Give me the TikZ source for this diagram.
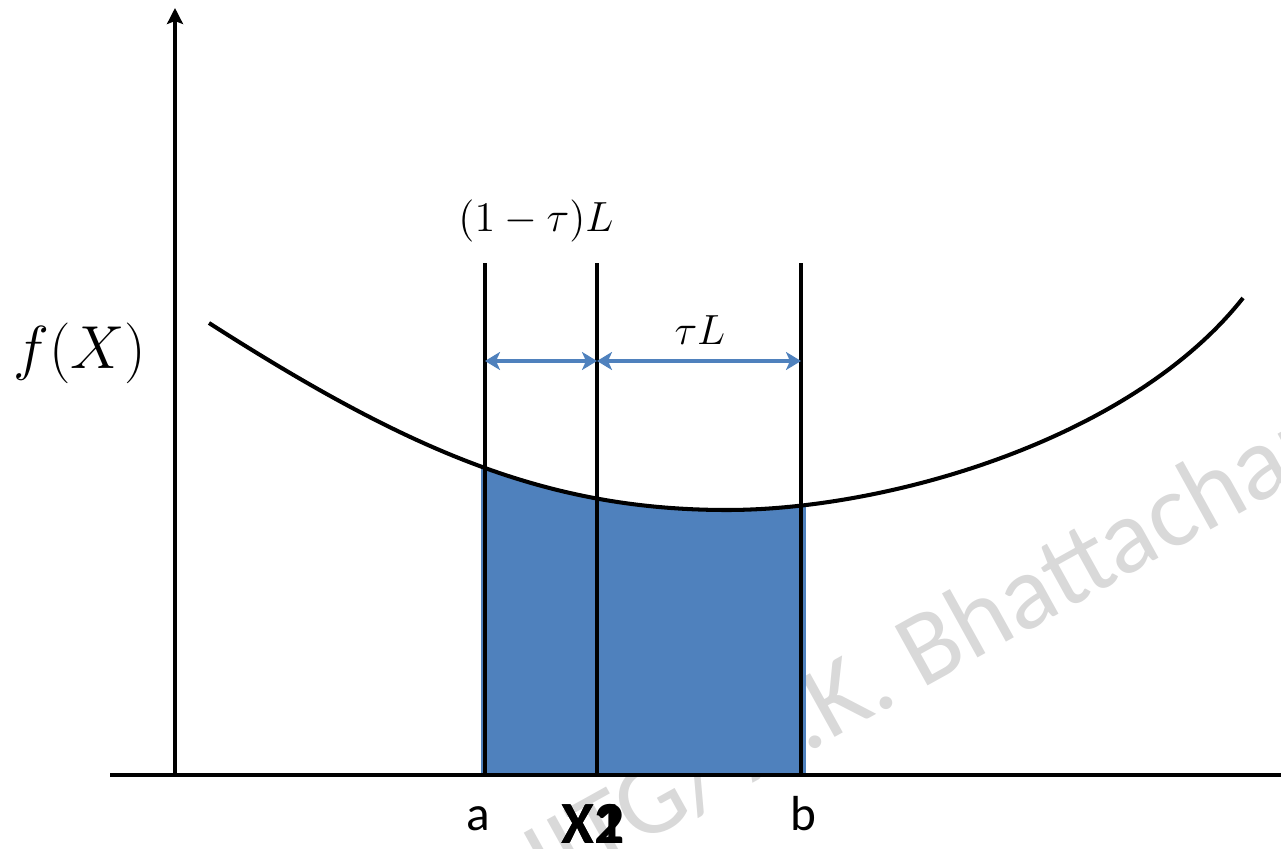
\documentclass[tikz,border=0pt]{standalone}
\usepackage{fontspec}
\setsansfont{Carlito}
\usepackage{amsmath}
\usetikzlibrary{arrows.meta}
\definecolor{areablue}{RGB}{79,129,189}
\definecolor{markgray}{RGB}{217,217,217}

\newcommand{\fxcurve}{(2.09,5.25) .. controls (4.09,3.97) and (5.47,3.38) .. (7.27,3.38) .. controls (8.87,3.38) and (11.31,4.08) .. (12.43,5.50)}

\tikzset{
    dimarrow/.style={areablue, line width=1pt, {Stealth[length=1.5mm,width=1.8mm,inset=0.4mm]}-{Stealth[length=1.5mm,width=1.8mm,inset=0.4mm]}},
    mathlbl/.style={font=\fontsize{11.5}{14}\selectfont, inner sep=0pt},
    ticklbl/.style={font=\sffamily\fontsize{14}{16}\selectfont, inner sep=0pt},
    xlbl/.style={font=\sffamily\bfseries\fontsize{17}{19}\selectfont, inner sep=0pt}
}

\begin{document}
\begin{tikzpicture}
    \useasboundingbox (0,0) rectangle (12.81,8.48);
    \clip (0,0) rectangle (12.81,8.48);
    % Watermark
    \node[anchor=base west, rotate=29, text=markgray, font=\sffamily\fontsize{30}{30}\selectfont, inner sep=0pt] (mark) at (9.21,1.58) {\llap{IITG/ A.K. }Bhattacharya};
    % Shaded area under f(X)
    \begin{scope}
        \clip \fxcurve -- (12.43,0.73) -- (2.09,0.73) -- cycle;
        \fill[areablue] (4.81,0.73) rectangle (8.06,6.00);
    \end{scope}
    % Axes
    \coordinate (O) at (1.75,0.73);
    \coordinate (ytop) at (1.75,8.40);
    \coordinate (xl) at (1.10,0.73);
    \coordinate (xr) at (12.90,0.73);
    \draw[line width=0.9pt, -{Stealth[length=1.6mm,width=1.6mm,inset=0.3mm]}] (O) -- (ytop);
    \draw[line width=1.4pt] (xl) -- (xr);
    % Curve
    \draw[line width=1.15pt] \fxcurve;
    % Interval lines
    \foreach \nm/\x in {a/4.85, xone/5.97, b/8.01} {
        \coordinate (\nm bot) at (\x,0.73);
        \coordinate (\nm top) at (\x,5.85);
        \coordinate (\nm mid) at (\x,4.87);
        \draw[line width=0.9pt] (\nm bot) -- (\nm top);
    }
    \draw[dimarrow] (amid) -- (xonemid);
    \draw[dimarrow] (xonemid) -- (bmid);
    % Labels
    \node[font=\fontsize{17.4}{20}\selectfont, inner sep=0pt] (fx) at (0.80,4.95) {$f(X)$};
    \node[mathlbl] (lenleft) at (5.36,6.27) {$(1-\tau)L$};
    \node[mathlbl] (lenright) at (7.00,5.18) {$\tau L$};
    \node[ticklbl, anchor=base] (la) at (4.78,0.18) {a};
    \node[ticklbl, anchor=base] (lb) at (8.03,0.18) {b};
    \node[xlbl, anchor=base] (lxone) at (5.93,0.05) {X1};
    \node[xlbl, anchor=base] (lxtwo) at (5.93,0.05) {X2};
\end{tikzpicture}
\end{document}
